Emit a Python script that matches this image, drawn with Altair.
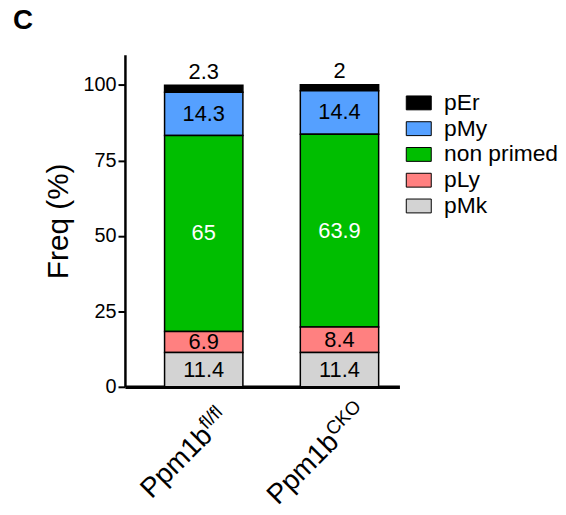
import altair as alt
import pandas as pd

# ---- data ----
genotypes = ["fl/fl", "CKO"]
label_main = ["Ppm1b", "Ppm1b"]
label_sup = ["fl/fl", "CKO"]
populations = ["pEr", "pMy", "non primed", "pLy", "pMk"]      # legend order (top -> bottom)
stack_rank = [4, 3, 2, 1, 0]                                   # 0 = bottom of the stack
values_flfl = [2.3, 14.3, 65.0, 6.9, 11.4]
values_cko = [2.0, 14.4, 63.9, 8.4, 11.4]
colors = ["#000000", "#55A0FF", "#00BE00", "#FF8080", "#D3D3D3"]
y_ticks = [0, 25, 50, 75, 100]

rows = []
for g, vals in zip(genotypes, [values_flfl, values_cko]):
    for p, r, v in zip(populations, stack_rank, vals):
        rows.append({"genotype": g, "population": p, "rank": r, "value": v})
df = pd.DataFrame(rows)

lab_df = pd.DataFrame({"genotype": genotypes, "main": label_main, "sup": label_sup})

FONT = "Liberation Sans"

x_enc = alt.X(
    "genotype:N",
    sort=genotypes,
    scale=alt.Scale(paddingInner=0.423, paddingOuter=0.2225, align=0.656),
    axis=alt.Axis(labels=False, ticks=False, title=None, domainWidth=3.5,
                  domainColor="black"),
)
y_scale = alt.Scale(domain=[0, 110], nice=False)

bars = alt.Chart(df).mark_bar(stroke="black", strokeWidth=1.5).encode(
    x=x_enc,
    y=alt.Y(
        "value:Q",
        stack="zero",
        scale=y_scale,
        axis=alt.Axis(
            values=y_ticks, title="Freq (%)", grid=False, domainWidth=2.5,
            domainColor="black", tickColor="black", tickWidth=2, tickSize=7,
            labelFontSize=20, labelFont=FONT, labelColor="black", labelPadding=2,
            titleFontSize=30, titleFont=FONT, titleFontWeight="normal",
            titleColor="black", titlePadding=10,
        ),
    ),
    color=alt.Color(
        "population:N",
        scale=alt.Scale(domain=populations, range=colors),
        legend=alt.Legend(
            title=None, orient="none", legendX=285, legendY=37, padding=0,
            symbolType="M-1.8,-1L1.8,-1L1.8,1L-1.8,1Z", symbolSize=196,
            symbolStrokeColor="black", symbolStrokeWidth=1, symbolOpacity=1,
            labelFontSize=23, labelFont=FONT, labelColor="black",
            labelOffset=14, rowPadding=2,
        ),
    ),
    order=alt.Order("rank:Q", sort="ascending"),
)

texts = (
    alt.Chart(df)
    .transform_stack(
        stack="value", groupby=["genotype"], as_=["y0", "y1"],
        sort=[alt.SortField("rank", order="ascending")],
    )
    .transform_calculate(
        pos="datum.population == 'pEr' ? datum.y1 + 4.5 : (datum.y0 + datum.y1) / 2"
    )
    .mark_text(fontSize=22, font=FONT, baseline="middle", align="center")
    .encode(
        x=alt.X("genotype:N", sort=genotypes),
        y=alt.Y("pos:Q", scale=y_scale),
        text=alt.Text("value:Q", format="~g"),
        color=alt.condition("datum.population == 'non primed'",
                            alt.value("white"), alt.value("black")),
    )
)

main_dx = [-29, -40]
main_dy = [43, 41]
label_layers = []
for g, mdx, mdy in zip(genotypes, main_dx, main_dy):
    base = alt.Chart(lab_df).transform_filter(alt.datum.genotype == g)
    label_layers.append(
        base.mark_text(angle=315, align="right", baseline="alphabetic",
                       fontSize=28, font=FONT, color="black", dx=mdx, dy=mdy)
        .encode(x=alt.X("genotype:N", sort=genotypes), y=alt.datum(0), text="main:N")
    )
    label_layers.append(
        base.mark_text(angle=315, align="left", baseline="alphabetic",
                       fontSize=19, font=FONT, color="black", dx=mdx, dy=mdy - 10)
        .encode(x=alt.X("genotype:N", sort=genotypes), y=alt.datum(0), text="sup:N")
    )

chart = (
    alt.layer(bars, texts, *label_layers)
    .properties(
        width=277,
        height=335,
        autosize=alt.AutoSizeParams(type="none"),
        padding={"left": 118, "top": 45, "right": 160, "bottom": 119},
        title=alt.TitleParams("C", anchor="start", frame="group", dx=-113,
                              fontSize=28, fontWeight="bold", font=FONT,
                              color="black", offset=20),
    )
    .configure_view(stroke=None)
)

chart.save("out.html", embed_options={"renderer": "svg", "actions": False})
